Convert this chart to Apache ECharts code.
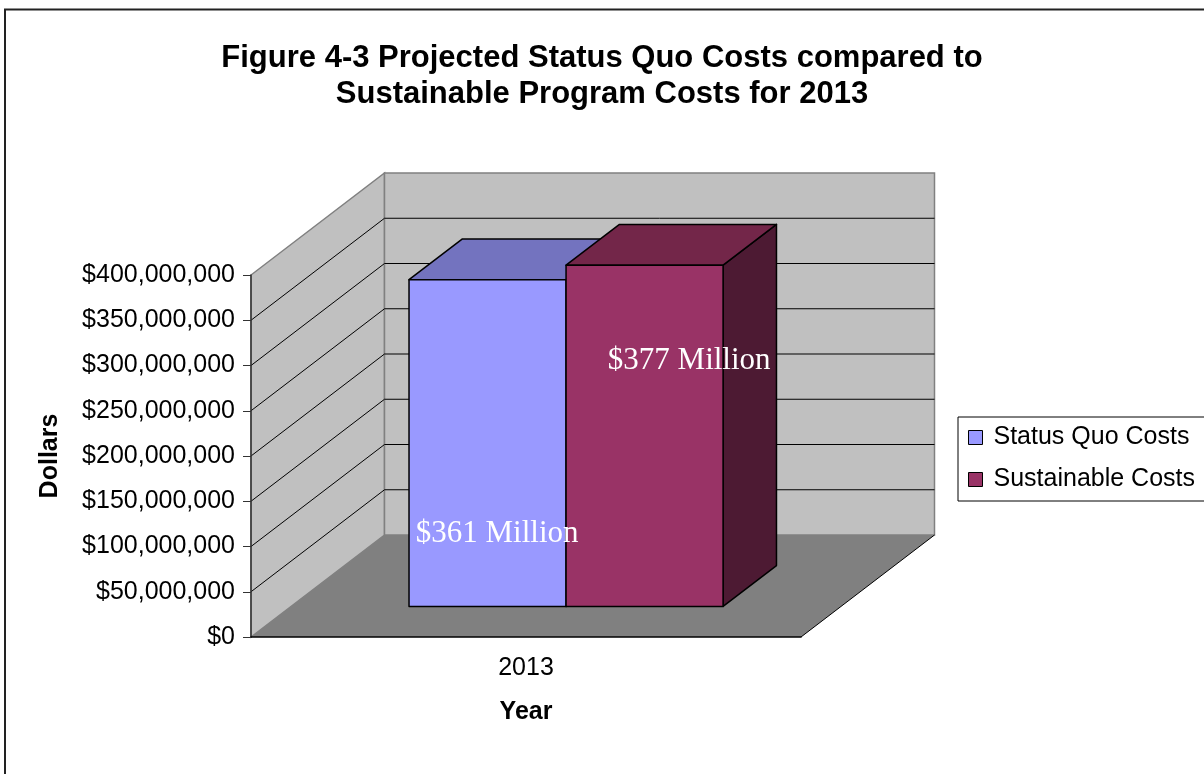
<!DOCTYPE html>
<html>
<head>
<meta charset="utf-8">
<title>Figure 4-3 Projected Status Quo Costs compared to Sustainable Program Costs for 2013</title>
<script src="https://cdn.jsdelivr.net/npm/echarts@6/dist/echarts.min.js"></script>
<style>
  html, body { margin: 0; padding: 0; background: #fff; }
  #chart { width: 1204px; height: 774px; }
</style>
</head>
<body>
<div id="chart"></div>
<script>
// ---- data ----
const YEARS = ['2013'];
const STATUS_QUO_COSTS = [361000000];
const SUSTAINABLE_COSTS = [377000000];
const TICK_VALUES = [0, 50000000, 100000000, 150000000, 200000000, 250000000, 300000000, 350000000, 400000000];

// ---- 3D look ----
const SANS = '"Liberation Sans", Arial, sans-serif';
const SERIF = '"Liberation Serif", "Times New Roman", serif';
const DEPTH_X = 133.5;      // horizontal shift from front plane to back wall
const DEPTH_Y = 102;        // vertical shift from front plane to back wall
const Z_FRONT = 0.3;        // bar front face, as a share of the depth
const Z_BACK = 0.7;         // bar back face
const BAR_RATIO = 0.2855;   // bar width as a share of the category band

function dollars(v) {
  return '$' + String(Math.round(v)).replace(/\B(?=(\d{3})+(?!\d))/g, ',');
}

// Walls, floor and gridlines of the 3D box
function renderWalls(params, api) {
  const cs = params.coordSys;
  const v = api.value(1);
  const x0 = cs.x, x1 = cs.x + cs.width;
  const yBottom = cs.y + cs.height, yTop = cs.y;
  if (v === TICK_VALUES[0]) {
    return {
      type: 'group',
      children: [
        { type: 'polygon',
          shape: { points: [[x0, yBottom], [x0, yTop], [x0 + DEPTH_X, yTop - DEPTH_Y], [x0 + DEPTH_X, yBottom - DEPTH_Y]] },
          style: { fill: '#c0c0c0', stroke: '#808080', lineWidth: 1.5 } },
        { type: 'polygon',
          shape: { points: [[x0 + DEPTH_X, yTop - DEPTH_Y], [x1 + DEPTH_X, yTop - DEPTH_Y], [x1 + DEPTH_X, yBottom - DEPTH_Y], [x0 + DEPTH_X, yBottom - DEPTH_Y]] },
          style: { fill: '#c0c0c0', stroke: '#808080', lineWidth: 1.5 } },
        { type: 'polygon',
          shape: { points: [[x0, yBottom], [x1, yBottom], [x1 + DEPTH_X, yBottom - DEPTH_Y], [x0 + DEPTH_X, yBottom - DEPTH_Y]] },
          style: { fill: '#808080', stroke: null } },
        { type: 'line',
          shape: { x1: x1, y1: yBottom, x2: x1 + DEPTH_X, y2: yBottom - DEPTH_Y },
          style: { stroke: '#000', lineWidth: 1 } }
      ]
    };
  }
  if (v >= TICK_VALUES[TICK_VALUES.length - 1]) return null;
  const y = api.coord([0, v])[1];
  return {
    type: 'group',
    children: [
      { type: 'line', shape: { x1: x0, y1: y, x2: x0 + DEPTH_X, y2: y - DEPTH_Y }, style: { stroke: '#000', lineWidth: 1 } },
      { type: 'line', shape: { x1: x0 + DEPTH_X, y1: y - DEPTH_Y, x2: x1 + DEPTH_X, y2: y - DEPTH_Y }, style: { stroke: '#000', lineWidth: 1 } }
    ]
  };
}

// Front-face box of a column in slot 0 or 1 of its category band
function barGeom(api, slot) {
  const cat = api.value(0), val = api.value(1);
  const base = api.coord([cat, 0]);
  const peak = api.coord([cat, val]);
  const w = api.size([1, 0])[0] * BAR_RATIO;
  const xl = base[0] - w + slot * w + DEPTH_X * Z_FRONT;
  return {
    val: val, xl: xl, xr: xl + w, w: w,
    yb: base[1] - DEPTH_Y * Z_FRONT,
    yt: peak[1] - DEPTH_Y * Z_FRONT,
    bx: DEPTH_X * (Z_BACK - Z_FRONT),
    by: DEPTH_Y * (Z_BACK - Z_FRONT)
  };
}

// One 3D column: right side, top and front face
function makeBar(slot, colors) {
  return function (params, api) {
    const g = barGeom(api, slot);
    const edge = { stroke: '#000', lineWidth: 1.5, lineJoin: 'round' };
    return {
      type: 'group',
      children: [
        { type: 'polygon',
          shape: { points: [[g.xr, g.yt], [g.xr + g.bx, g.yt - g.by], [g.xr + g.bx, g.yb - g.by], [g.xr, g.yb]] },
          style: Object.assign({ fill: colors.side }, edge) },
        { type: 'polygon',
          shape: { points: [[g.xl, g.yt], [g.xr, g.yt], [g.xr + g.bx, g.yt - g.by], [g.xl + g.bx, g.yt - g.by]] },
          style: Object.assign({ fill: colors.top }, edge) },
        { type: 'rect',
          shape: { x: g.xl, y: g.yt, width: g.w, height: g.yb - g.yt },
          style: Object.assign({ fill: colors.front }, edge) }
      ]
    };
  };
}

// Value label of a column, drawn above every column
function makeLabel(slot, at) {
  return function (params, api) {
    const g = barGeom(api, slot);
    return {
      type: 'text',
      x: g.xl + g.w * at[0],
      y: g.yt + (g.yb - g.yt) * at[1],
      style: {
        text: '$' + Math.round(g.val / 1e6) + ' Million',
        fill: '#ffffff',
        font: '31px ' + SERIF,
        textAlign: 'left',
        textVerticalAlign: 'middle'
      }
    };
  };
}

const chart = echarts.init(document.getElementById('chart'), null, { renderer: 'canvas' });

chart.setOption({
  animation: false,
  backgroundColor: '#ffffff',
  title: {
    text: 'Figure 4-3 Projected Status Quo Costs compared to\nSustainable Program Costs for 2013',
    left: 'center',
    top: 40,
    padding: 0,
    textStyle: { fontFamily: SANS, fontSize: 31, fontWeight: 'bold', color: '#000', lineHeight: 36 }
  },
  legend: {
    data: ['Status Quo Costs', 'Sustainable Costs'],
    orient: 'vertical',
    left: 958,
    top: 417,
    padding: [8, 40, 9, 10],
    itemGap: 17,
    itemWidth: 14,
    itemHeight: 14,
    icon: 'rect',
    borderColor: '#000',
    borderWidth: 1,
    backgroundColor: '#fff',
    itemStyle: { borderColor: '#000', borderWidth: 1 },
    textStyle: { fontFamily: SANS, fontSize: 25, color: '#000', padding: [0, 0, 0, 6] }
  },
  grid: { left: 251, top: 275, width: 550, height: 362 },
  xAxis: {
    type: 'category',
    data: YEARS,
    z: 10,
    name: 'Year',
    nameLocation: 'middle',
    nameGap: 63,
    nameTextStyle: { fontFamily: SANS, fontSize: 25, fontWeight: 'bold', color: '#000' },
    axisLine: { lineStyle: { color: '#000', width: 1.5 } },
    axisTick: { length: 8, lineStyle: { color: '#333' } },
    axisLabel: { margin: 19, fontFamily: SANS, fontSize: 25, color: '#000' },
    splitLine: { show: false }
  },
  yAxis: {
    type: 'value',
    min: 0,
    max: 400000000,
    interval: 50000000,
    z: 10,
    name: 'Dollars',
    nameLocation: 'middle',
    nameRotate: 90,
    nameGap: 188,
    nameTextStyle: { fontFamily: SANS, fontSize: 25, fontWeight: 'bold', color: '#000' },
    axisLine: { show: true, lineStyle: { color: '#333', width: 1.5 } },
    axisTick: { show: true, length: 8, lineStyle: { color: '#333' } },
    axisLabel: { margin: 16, fontFamily: SANS, fontSize: 25, color: '#000', formatter: dollars },
    splitLine: { show: false }
  },
  graphic: [
    { type: 'rect', z: 100, silent: true,
      shape: { x: 5, y: 9.5, width: 1400, height: 1000 },
      style: { fill: null, stroke: '#222', lineWidth: 2 } }
  ],
  series: [
    {
      name: 'walls',
      type: 'custom',
      z: 1,
      silent: true,
      renderItem: renderWalls,
      data: TICK_VALUES.map(function (v) { return [0, v]; })
    },
    {
      name: 'Status Quo Costs',
      type: 'custom',
      z: 2,
      itemStyle: { color: '#9999ff', borderColor: '#000', borderWidth: 1 },
      renderItem: makeBar(0, { front: '#9999ff', top: '#7373bf', side: '#5c5c99' }),
      data: STATUS_QUO_COSTS.map(function (v, i) { return [i, v]; })
    },
    {
      name: 'Sustainable Costs',
      type: 'custom',
      z: 3,
      itemStyle: { color: '#993366', borderColor: '#000', borderWidth: 1 },
      renderItem: makeBar(1, { front: '#993366', top: '#732649', side: '#4d1a33' }),
      data: SUSTAINABLE_COSTS.map(function (v, i) { return [i, v]; })
    },
    {
      name: 'Status Quo label',
      type: 'custom',
      z: 5,
      silent: true,
      renderItem: makeLabel(0, [0.043, 0.778]),
      data: STATUS_QUO_COSTS.map(function (v, i) { return [i, v]; })
    },
    {
      name: 'Sustainable label',
      type: 'custom',
      z: 5,
      silent: true,
      renderItem: makeLabel(1, [0.266, 0.28]),
      data: SUSTAINABLE_COSTS.map(function (v, i) { return [i, v]; })
    }
  ]
});
</script>
</body>
</html>
